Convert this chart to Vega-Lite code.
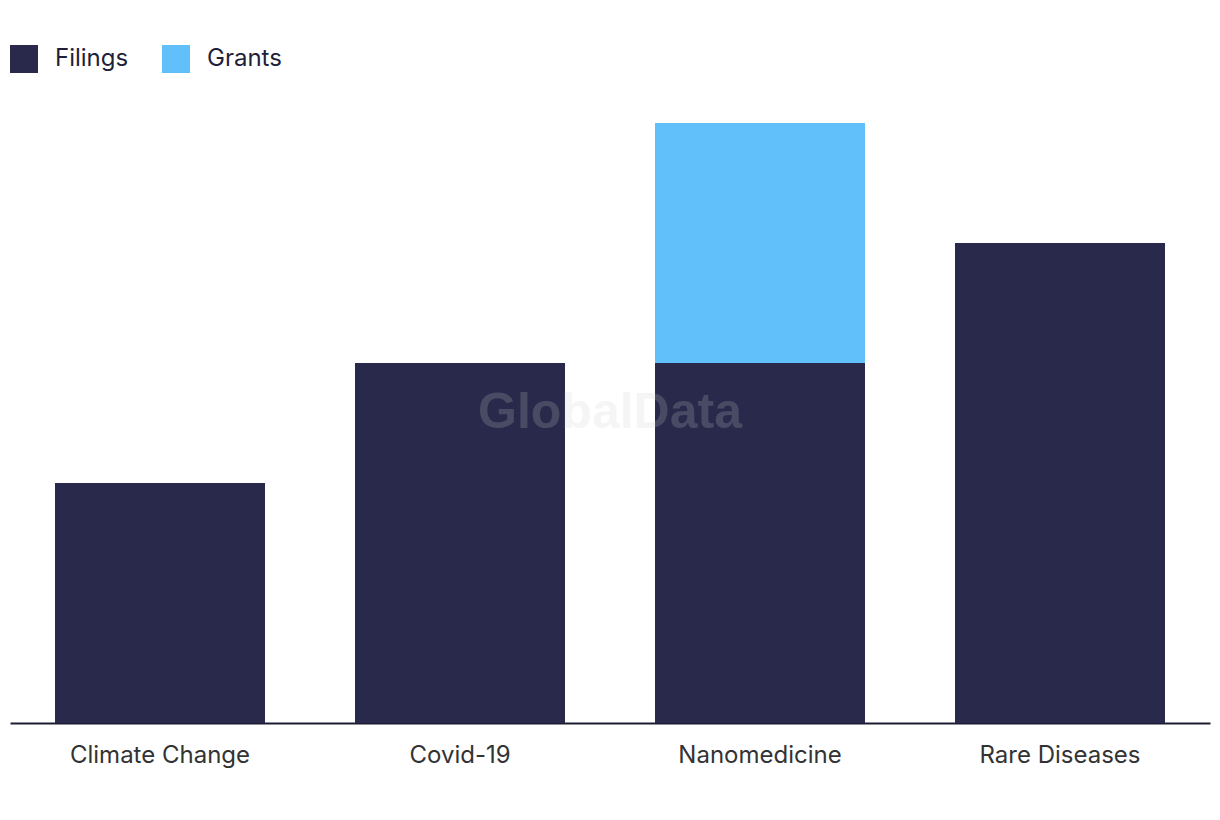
{
  "$schema": "https://vega.github.io/schema/vega-lite/v6.json",
  "autosize": "none",
  "width": 1200,
  "height": 600,
  "padding": {"left": 10, "top": 123, "right": 10, "bottom": 97},
  "background": "white",
  "config": {"view": {"stroke": null}, "font": "Inter"},
  "layer": [
    {
      "data": {"values": [
        {"topic": "Climate Change", "type": "Filings", "count": 2},
        {"topic": "Covid-19", "type": "Filings", "count": 3},
        {"topic": "Nanomedicine", "type": "Filings", "count": 3},
        {"topic": "Nanomedicine", "type": "Grants", "count": 2},
        {"topic": "Rare Diseases", "type": "Filings", "count": 4}
      ]},
      "mark": {"type": "bar"},
      "encoding": {
        "x": {
          "field": "topic", "type": "nominal", "title": null,
          "scale": {"paddingInner": 0.3, "paddingOuter": 0.15},
          "axis": {"labelAngle": 0, "labelFontSize": 24, "labelColor": "#333333", "labelPadding": 20, "labelLimit": 0, "ticks": false, "domainColor": "#1c1c33", "domainWidth": 2, "labelFont": "Inter"}
        },
        "y": {
          "field": "count", "type": "quantitative", "stack": "zero",
          "scale": {"domain": [0, 5], "nice": false},
          "axis": null
        },
        "color": {
          "field": "type", "type": "nominal", "title": null,
          "scale": {"domain": ["Filings", "Grants"], "range": ["#29294b", "#61c0f9"]},
          "legend": {
            "orient": "none", "legendX": 0, "legendY": -78, "direction": "horizontal",
            "symbolType": "square", "symbolSize": 784, "symbolStrokeWidth": 0, "symbolOpacity": 1,
            "labelFontSize": 24, "labelColor": "#1f1f3a", "labelOffset": 17, "labelLimit": 0, "columnPadding": 33, "labelFont": "Inter"
          }
        },
        "order": {"field": "type", "sort": "ascending"}
      }
    },
    {
      "data": {"values": [{"label": "GlobalData"}]},
      "mark": {"type": "text", "x": {"expr": "width/2"}, "y": {"expr": "height/2"}, "dy": -10, "align": "center", "baseline": "middle", "fontSize": 50, "fontWeight": "bold", "font": "Liberation Sans", "color": "#cecece", "opacity": 0.2},
      "encoding": {"text": {"field": "label"}}
    }
  ]
}
